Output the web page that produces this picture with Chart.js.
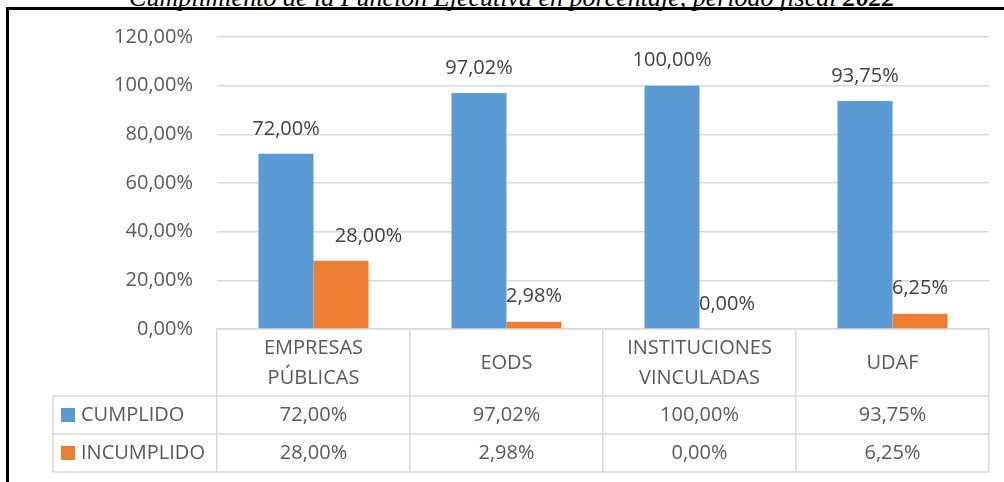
<!DOCTYPE html>
<html>
<head>
<meta charset="utf-8">
<script src="https://cdn.jsdelivr.net/npm/chart.js@4.4.1/dist/chart.umd.min.js"></script>
<style>
  html, body { margin: 0; padding: 0; background: #fff; overflow: hidden; }
  #page { position: relative; width: 1004px; height: 482px; overflow: hidden; }
  #title {
    position: absolute; left: 0; top: -15px; width: 1004px; padding-left: 20px;
    box-sizing: border-box; text-align: center; white-space: nowrap;
    font: italic 26px "Liberation Serif"; line-height: 26px; color: #000;
  }
  #frame {
    position: absolute; left: 6px; top: 7px; width: 1100px; height: 600px;
    border-left: 3px solid #000; border-top: 3px solid #000;
  }
  #wrap { position: absolute; left: 0; top: 0; width: 1004px; height: 482px; }
</style>
</head>
<body>
<div id="page">
  <div id="title">Cumplimiento de la Función Ejecutiva en porcentaje, período fiscal <b>2022</b></div>
  <div id="frame"></div>
  <div id="wrap"><canvas id="chart"></canvas></div>
</div>
<script>
const categories = [["EMPRESAS", "PÚBLICAS"], "EODS", ["INSTITUCIONES", "VINCULADAS"], "UDAF"];
const seriesNames = ["CUMPLIDO", "INCUMPLIDO"];
const cumplido = [72.0, 97.02, 100.0, 93.75];
const incumplido = [28.0, 2.98, 0.0, 6.25];
const yTicks = [0, 20, 40, 60, 80, 100, 120];
const colors = ["#5B9BD5", "#ED7D31"];

const FONT = "'Open Sans'";
const fmt = (v) => v.toFixed(2).replace(".", ",") + "%";

// excel-style data table under the plot + labels above bars
const dataTable = {
  id: "dataTable",
  afterDraw(chart) {
    const ctx = chart.ctx;
    const xs = chart.scales.x;
    const area = chart.chartArea;
    const legendLeft = 53;
    const rowTop = area.bottom + 67;
    const rowH = 38;
    const series = [cumplido, incumplido];

    ctx.save();
    ctx.strokeStyle = "#d9d9d9";
    ctx.lineWidth = 1.5;
    ctx.beginPath();
    for (let r = 0; r <= 2; r++) {
      ctx.moveTo(legendLeft, rowTop + r * rowH);
      ctx.lineTo(xs.right, rowTop + r * rowH);
    }
    ctx.moveTo(legendLeft, rowTop);
    ctx.lineTo(legendLeft, rowTop + 2 * rowH);
    ctx.stroke();

    ctx.font = "20px " + FONT;
    ctx.textBaseline = "middle";
    series.forEach((vals, r) => {
      const cy = rowTop + r * rowH + rowH / 2;
      ctx.fillStyle = colors[r];
      ctx.fillRect(legendLeft + 8, cy - 7, 14, 14);
      ctx.fillStyle = "#595959";
      ctx.textAlign = "left";
      ctx.fillText(seriesNames[r], legendLeft + 28, cy);
      ctx.textAlign = "center";
      vals.forEach((v, i) => ctx.fillText(fmt(v), xs.getPixelForValue(i), cy));
    });

    // value labels above the bars
    ctx.fillStyle = "#404040";
    ctx.textAlign = "center";
    chart.data.datasets.forEach((ds, di) => {
      chart.getDatasetMeta(di).data.forEach((bar, i) => {
        const nudge = di === 1 && i === 0 ? bar.width / 2 : 0;
        ctx.fillText(fmt(ds.data[i]), bar.x + nudge, bar.y - 25);
      });
    });
    ctx.restore();
  },
};

new Chart(document.getElementById("chart"), {
  type: "bar",
  data: {
    labels: categories,
    datasets: [
      { label: seriesNames[0], data: cumplido, backgroundColor: colors[0] },
      { label: seriesNames[1], data: incumplido, backgroundColor: colors[1] },
    ],
  },
  options: {
    responsive: true,
    maintainAspectRatio: false,
    animation: false,
    layout: { padding: { top: 37, right: 15, bottom: 0, left: 0 } },
    datasets: { bar: { categoryPercentage: 0.57, barPercentage: 1.0 } },
    plugins: { legend: { display: false }, tooltip: { enabled: false } },
    scales: {
      x: {
        grid: { drawOnChartArea: false, drawTicks: true, tickLength: 143, color: "#d9d9d9", lineWidth: 1.5 },
        border: { color: "#d9d9d9", width: 1.5 },
        ticks: {
          padding: -124,
          maxRotation: 0,
          autoSkip: false,
          crossAlign: "center",
          color: "#595959",
          font: { family: FONT, size: 20, lineHeight: 1.5 },
        },
        afterFit(scale) { scale.height = 153; },
      },
      y: {
        min: yTicks[0],
        max: yTicks[yTicks.length - 1],
        afterBuildTicks(scale) { scale.ticks = yTicks.map((v) => ({ value: v })); },
        grid: { drawTicks: false, color: "#d9d9d9", lineWidth: 1.5 },
        border: { display: false },
        ticks: {
          padding: 24,
          color: "#595959",
          font: { family: FONT, size: 20 },
          callback: (v) => fmt(v),
        },
        afterFit(scale) { scale.width = 217; },
      },
    },
  },
  plugins: [dataTable],
});
</script>
</body>
</html>
